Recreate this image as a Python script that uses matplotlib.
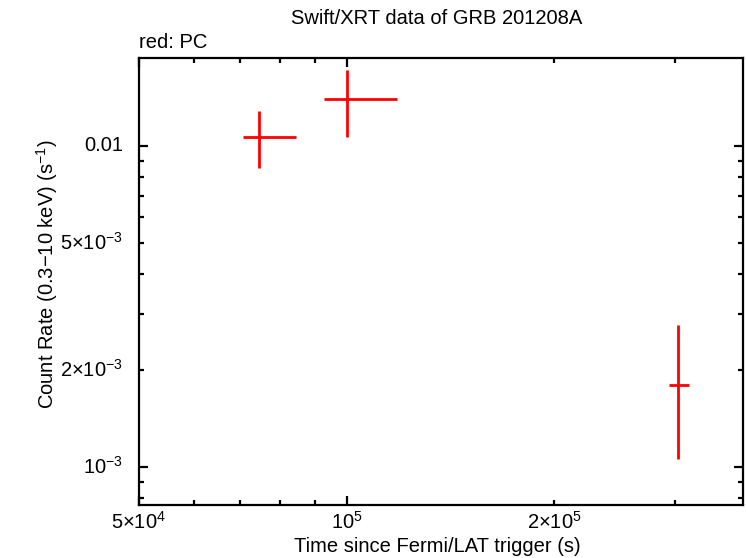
import matplotlib
matplotlib.use("Agg")
import matplotlib.pyplot as plt
from matplotlib.ticker import FixedLocator, NullFormatter

plt.rcParams['font.family'] = ['Liberation Sans', 'DejaVu Sans']
plt.rcParams['mathtext.fontset'] = 'custom'
plt.rcParams['mathtext.rm'] = 'Liberation Sans'
plt.rcParams['mathtext.it'] = 'Liberation Sans'
plt.rcParams['mathtext.bf'] = 'Liberation Sans'

# data (PC mode)
t = [7.47e4, 1.00e5, 3.03e5]
t_lo = [7.08e4, 9.29e4, 2.94e5]
t_hi = [8.45e4, 1.184e5, 3.14e5]
rate = [0.01064, 0.01398, 1.797e-3]
rate_lo = [0.00856, 0.01069, 1.061e-3]
rate_hi = [0.01285, 0.01725, 2.77e-3]

xticks = [5e4, 1e5, 2e5]
xticklabels = [r'$5{\times}10^{4}$', r'$10^{5}$', r'$2{\times}10^{5}$']
yticks = [1e-3, 2e-3, 5e-3, 1e-2]
yticklabels = [r'$10^{-3}$', r'$2{\times}10^{-3}$', r'$5{\times}10^{-3}$', '0.01']

FS = 14.5

fig = plt.figure(figsize=(7.46, 5.58), dpi=100)
ax = fig.add_axes([139/746, 1-505/558, (743-139)/746, (505-58)/558])

xerr = [[c - l for c, l in zip(t, t_lo)], [h - c for c, h in zip(t, t_hi)]]
yerr = [[c - l for c, l in zip(rate, rate_lo)], [h - c for c, h in zip(rate, rate_hi)]]
ax.errorbar(t, rate, xerr=xerr, yerr=yerr, fmt='none', ecolor='#ff0000',
            elinewidth=2.0, capsize=0)

ax.set_xscale('log')
ax.set_yscale('log')
ax.set_xlim(5e4, 3.76e5)
ax.set_ylim(7.61e-4, 1.88e-2)

ax.xaxis.set_major_locator(FixedLocator([5e4, 1e5]))
ax.xaxis.set_minor_locator(FixedLocator([6e4, 7e4, 8e4, 9e4, 2e5, 3e5]))
ax.xaxis.set_major_formatter(NullFormatter())
ax.xaxis.set_minor_formatter(NullFormatter())
ax.yaxis.set_major_locator(FixedLocator([1e-3, 1e-2]))
ax.yaxis.set_minor_locator(FixedLocator([8e-4, 9e-4] + [k*1e-3 for k in range(2, 10)]))
ax.yaxis.set_major_formatter(NullFormatter())
ax.yaxis.set_minor_formatter(NullFormatter())

trans_x = ax.get_xaxis_transform()
trans_y = ax.get_yaxis_transform()
for v, lab in zip(xticks, xticklabels):
    ax.text(v, -17/447, lab, transform=trans_x, ha='center', va='center', fontsize=FS)
for v, lab in zip(yticks, yticklabels):
    ax.text(-16/604, v, lab, transform=trans_y, ha='right', va='center', fontsize=FS)

for s in ax.spines.values():
    s.set_linewidth(1.6)
ax.tick_params(which='both', direction='in', top=True, right=True, width=1.6)
ax.tick_params(which='major', length=6.5)
ax.tick_params(which='minor', length=3.6)

fig.text(437/746, 1-19/558, 'Swift/XRT data of GRB 201208A', ha='center', va='center', fontsize=FS)
fig.text(139/746, 1-42/558, 'red: PC', ha='left', va='center', fontsize=FS)
fig.text(437/746, 1-546/558, 'Time since Fermi/LAT trigger (s)', ha='center', va='center', fontsize=FS)
fig.text(47/746, 1-274/558, r'Count Rate (0.3$-$10 keV) (s$^{-1}$)', ha='center', va='center',
         rotation=90, fontsize=FS)

fig.savefig('out.png', dpi=100)
